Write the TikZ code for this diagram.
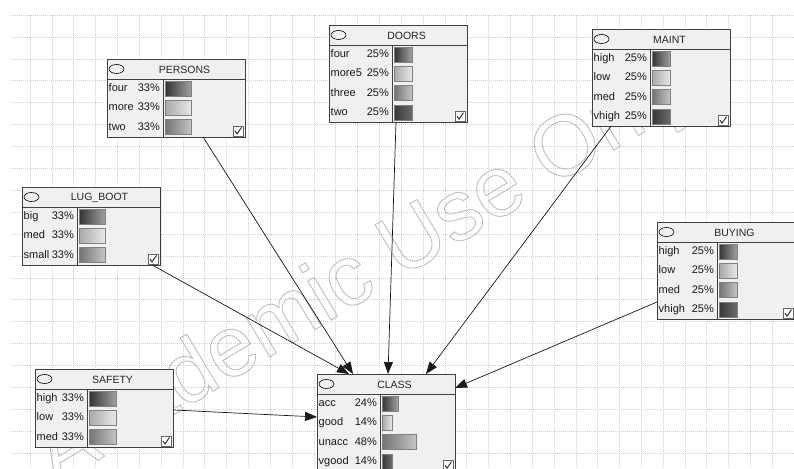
\documentclass[tikz,border=0pt]{standalone}
\usepackage{fontspec}
\setmainfont{Liberation Sans}
\usetikzlibrary{arrows.meta,shapes.geometric}
\newcommand{\bnbox}[7]{%
  \node[bnframe, minimum height={20+19.3*#4}, anchor=north west] (#1) at (#2,#3) {};
  \draw[bnline] (#2,#3+20) -- (#2+138,#3+20);
  \draw[bnline] (#2+#5,#3+20) -- ({#2+#5},{#3+20+19.3*#4});
  \node[bnell] (#1-e) at (#2+9.5,#3+10) {};
  \node[bntitle] (#1-t) at (#2+77.5,#3+10.5) {#6};
  \foreach \bnlab/\bnpct/\bnlen [count=\i] in {#7}{
    \pgfmathsetmacro\bnry{#3+20+19.3*(\i-0.5)}
    \node[rowtext, anchor=west] (#1-l\i) at (#2+1.5,\bnry) {\bnlab};
    \node[rowtext, anchor=east] (#1-p\i) at (#2+#5-3,\bnry) {\bnpct};
    \node[bar\i, minimum width=\bnlen, anchor=west] (#1-b\i) at (#2+#5+2,\bnry) {};
  }
  \node[chkbox] (#1-c) at ({#2+131},{#3+20+19.3*#4-6}) {};
  \draw[chk] ([shift={(-3,0)}]#1-c.center) -- ([shift={(-1,3)}]#1-c.center) -- ([shift={(3.5,-3.5)}]#1-c.center);
}
\begin{document}
\begin{tikzpicture}[x=1pt,y=-1pt,
  gridline/.style={black!18, line width=0.5pt, dash pattern=on 1pt off 1pt},
  bnframe/.style={rectangle, draw=black!75, line width=0.8pt, fill=black!6, minimum width=138pt, inner sep=0pt, outer sep=0pt},
  bnline/.style={draw=black!75, line width=0.8pt},
  bnell/.style={ellipse, draw=black, line width=0.6pt, minimum width=15pt, minimum height=9pt, inner sep=0pt},
  bntitle/.style={inner sep=0pt, font=\fontsize{10.5}{12}\selectfont, text=black!85},
  rowtext/.style={inner sep=0pt, text height=8pt, text depth=2pt, font=\fontsize{11}{13}\selectfont, text=black!90},
  barbase/.style={rectangle, draw=black!50, line width=0.6pt, minimum height=15pt, inner sep=0pt, outer sep=0pt},
  bar1/.style={barbase, left color=black!80, right color=black!37},
  bar2/.style={barbase, left color=black!34, right color=black!9},
  bar3/.style={barbase, left color=black!55, right color=black!23},
  bar4/.style={barbase, left color=black!78, right color=black!58},
  chkbox/.style={rectangle, draw=black!60, fill=white, line width=0.6pt, minimum size=10pt, inner sep=0pt},
  chk/.style={black!80, line width=1pt},
  arr/.style={-{Triangle[length=12pt,width=9pt]}, line width=0.7pt, black!90},
  wmark/.style={rotate=31, text=black!25, inner sep=0pt, font=\fontsize{86}{88}\selectfont}
]
\useasboundingbox (0,0) rectangle (794,468);
\clip (0,0) rectangle (794,468);
\fill[white] (0,0) rectangle (794,468);
\foreach \k in {0,...,35} \draw[gridline] (30+21.83*\k,15) -- (30+21.83*\k,468);
\foreach \k in {0,...,20} \draw[gridline] (11,15+21.9*\k) -- (794,15+21.9*\k);

\node[wmark] (wm) at (368,272) {\special{pdf:literal direct 1 Tr 0.9 w}Academic Use Only\special{pdf:literal direct 0 Tr}};

\bnbox{persons}{107}{59}{3}{56}{PERSONS}{four/33\%/26, more/33\%/26, two/33\%/26}
\bnbox{doors}{329}{25}{4}{63}{DOORS}{four/25\%/18, more5/25\%/18, three/25\%/18, two/25\%/18}
\bnbox{maint}{592}{29}{4}{58}{MAINT}{high/25\%/18, low/25\%/18, med/25\%/18, vhigh/25\%/18}
\bnbox{lugboot}{22}{187}{3}{55}{LUG\_BOOT}{big/33\%/26, med/33\%/26, small/33\%/26}
\bnbox{buying}{657}{222}{4}{60}{BUYING}{high/25\%/18, low/25\%/18, med/25\%/18, vhigh/25\%/18}
\bnbox{safety}{35}{369}{3}{52}{SAFETY}{high/33\%/27, low/33\%/27, med/33\%/27}
\bnbox{class}{317}{374}{4}{63}{CLASS}{acc/24\%/16, good/14\%/10, unacc/48\%/34, vgood/14\%/10}

\draw[arr] ([xshift=27]persons.south) -- ([xshift=-33]class.north);
\draw[arr] ([xshift=61]lugboot.south) -- ([xshift=-37]class.north);
\draw[arr] ([xshift=-2]doors.south) -- ([xshift=2]class.north);
\draw[arr] ([xshift=-50]maint.south) -- ([xshift=40]class.north);
\draw[arr] ([yshift=-2]safety.east) -- ([yshift=5.6]class.west);
\draw[arr] ([yshift=-31.4]buying.west) -- ([yshift=34.6]class.east);
\end{tikzpicture}
\end{document}
